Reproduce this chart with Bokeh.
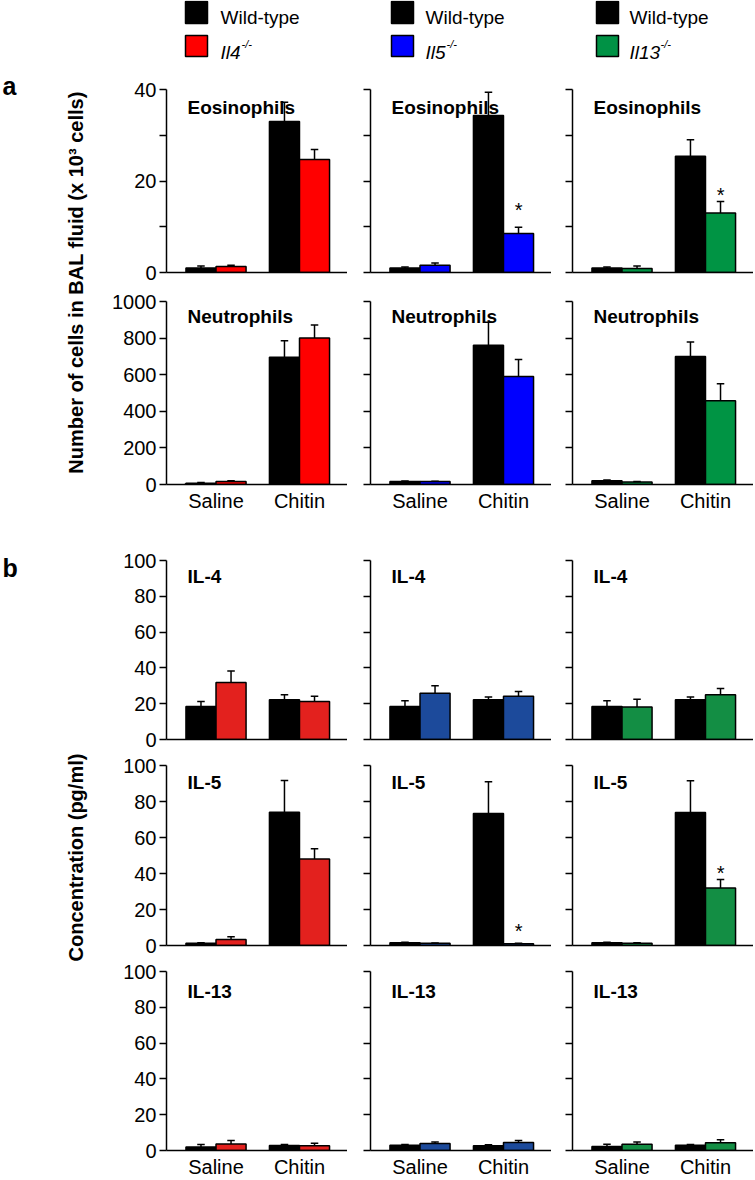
import math
from bokeh.plotting import figure
from bokeh.layouts import row, column
from bokeh.models import Range1d, FixedTicker, Label
from bokeh.core.properties import value
from bokeh.embed import file_html
from bokeh.resources import INLINE

FONT = "Liberation Sans"

# ---------------- data ----------------
groups = ["Saline", "Chitin"]
group_x = [1, 2]
strains = ["Il4", "Il5", "Il13"]
legend_wt = "Wild-type"
ko_colors_a = ["#FF0000", "#0000FF", "#009444"]
ko_colors_b = ["#E3211E", "#1C4A9B", "#138E44"]
legend_colors = ["#FF0000", "#0000FF", "#009245"]

# panel a, Eosinophils (x10^3 cells); per strain: [Saline, Chitin]
eos_wt = [[1.0, 33.0], [1.0, 34.3], [1.0, 25.4]]
eos_wt_err = [[0.4, 4.2], [0.2, 5.1], [0.2, 3.6]]
eos_ko = [[1.3, 24.7], [1.6, 8.5], [0.9, 13.0]]
eos_ko_err = [[0.3, 2.2], [0.5, 1.4], [0.5, 2.5]]
eos_star = [None, 13.6, 17.0]

# panel a, Neutrophils
neu_wt = [[7, 695], [16, 761], [20, 699]]
neu_wt_err = [[4, 90], [3, 126], [4, 80]]
neu_ko = [[16, 801], [16, 590], [13, 457]]
neu_ko_err = [[5, 70], [2, 93], [3, 93]]

# panel b, IL-4 (pg/ml)
il4_wt = [[18.4, 22.2], [18.4, 22.2], [18.4, 22.2]]
il4_wt_err = [[2.8, 2.8], [3.2, 1.6], [3.2, 1.6]]
il4_ko = [[31.8, 21.2], [25.9, 24.2], [18.2, 25.0]]
il4_ko_err = [[6.4, 3.0], [4.1, 2.6], [4.3, 3.5]]

# panel b, IL-5
il5_wt = [[1.2, 74.0], [1.5, 73.3], [1.5, 73.9]]
il5_wt_err = [[0.3, 17.7], [0.3, 17.7], [0.3, 17.6]]
il5_ko = [[3.3, 48.1], [1.2, 1.0], [1.3, 31.9]]
il5_ko_err = [[1.5, 5.6], [0.2, 0.2], [0.2, 4.8]]
il5_star = [None, 8.3, 40.2]

# panel b, IL-13
il13_wt = [[2.0, 2.8], [3.0, 2.6], [2.2, 3.0]]
il13_wt_err = [[1.4, 0.6], [0.4, 0.6], [1.3, 0.4]]
il13_ko = [[3.7, 2.6], [3.9, 4.5], [3.5, 4.3]]
il13_ko_err = [[1.9, 1.5], [0.9, 1.1], [1.2, 1.7]]

eos_ticks = [0, 10, 20, 30, 40]
eos_labeled = [0, 20, 40]
neu_ticks = [0, 200, 400, 600, 800, 1000]
conc_ticks = [0, 20, 40, 60, 80, 100]

# ---------------- layout constants ----------------
FRAME_W = 181
LEFT_BORDER = [66, 23, 21]
X_RANGE = (0.407, 2.575)
BAR_W = 0.36
CAP_HALF = 0.045


def make_panel(col, ymax, ticks, labeled, wt, wt_err, ko, ko_err, color, title,
               title_off, frame_h, top, bottom, show_x, star_y=None):
    p = figure(frame_width=FRAME_W, frame_height=frame_h,
               x_range=Range1d(*X_RANGE), y_range=Range1d(0, ymax),
               output_backend="svg", toolbar_location=None,
               min_border_left=LEFT_BORDER[col], min_border_right=0,
               min_border_top=top, min_border_bottom=bottom,
               outline_line_color=None)
    p.grid.visible = False
    wx = [g - BAR_W / 2 for g in group_x]
    kx = [g + BAR_W / 2 for g in group_x]
    p.vbar(x=wx, top=wt, bottom=0, width=BAR_W, fill_color="black",
           line_color="black", line_width=1.5)
    p.vbar(x=kx, top=ko, bottom=0, width=BAR_W, fill_color=color,
           line_color="black", line_width=1.5)
    xs = wx + kx
    y0 = list(wt) + list(ko)
    e = list(wt_err) + list(ko_err)
    y1 = [a + b for a, b in zip(y0, e)]
    p.segment(x0=xs, y0=y0, x1=xs, y1=y1, line_color="black", line_width=1.5)
    p.segment(x0=[x - CAP_HALF for x in xs], y0=y1,
              x1=[x + CAP_HALF for x in xs], y1=y1,
              line_color="black", line_width=1.5)
    if star_y is not None:
        p.text(x=[kx[1]], y=[star_y], text=["*"], text_font=value(FONT),
               text_font_size="20px", text_align="center",
               text_baseline="middle", text_color="black")
    p.add_layout(Label(x=X_RANGE[0], y=ymax * (1 - title_off / frame_h),
                       x_offset=21, text=title, text_font=FONT,
                       text_font_size="19px", text_font_style="bold",
                       text_baseline="alphabetic", text_color="black"))
    # y axis: labelled ticks are major, the rest minor (styled alike)
    ya = p.yaxis[0]
    if col == 0:
        major = list(labeled)
    else:
        major = []
    minor = [t for t in ticks if t not in major]
    ya.ticker = FixedTicker(ticks=major, minor_ticks=minor)
    ya.axis_line_width = 1.5
    ya.axis_line_color = "black"
    for pre in ("major", "minor"):
        setattr(ya, pre + "_tick_line_width", 1.5)
        setattr(ya, pre + "_tick_line_color", "black")
        setattr(ya, pre + "_tick_out", 7)
        setattr(ya, pre + "_tick_in", 0)
    ya.major_label_text_font = FONT
    ya.major_label_text_color = "black"
    ya.major_label_text_font_size = "20px"
    ya.major_label_standoff = 3
    # x axis
    xa = p.xaxis[0]
    if show_x:
        xa.ticker = FixedTicker(ticks=group_x, minor_ticks=[])
        xa.major_label_overrides = {g: lab for g, lab in zip(group_x, groups)}
    else:
        xa.ticker = FixedTicker(ticks=[], minor_ticks=[])
    xa.axis_line_width = 1.5
    xa.axis_line_color = "black"
    xa.major_tick_out = 0
    xa.major_tick_in = 0
    xa.minor_tick_out = 0
    xa.minor_tick_in = 0
    xa.major_label_text_font = FONT
    xa.major_label_text_color = "black"
    xa.major_label_text_font_size = "20px"
    xa.major_label_standoff = 5
    return p


def blank(width, height):
    p = figure(width=width, height=height, x_range=Range1d(0, width),
               y_range=Range1d(0, height), x_axis_location=None,
               y_axis_location=None, min_border=0, outline_line_color=None,
               output_backend="svg", toolbar_location=None)
    p.grid.visible = False
    return p


# ---------------- legend ----------------
LEG_H = 62
leg = blank(753, LEG_H)
sq_left = [185, 391, 596]
txt_x = [220, 425, 629]
leg.quad(left=sq_left, right=[l + 22 for l in sq_left], top=[61] * 3,
         bottom=[39] * 3, fill_color="black", line_color="black", line_width=1.5)
leg.quad(left=sq_left, right=[l + 22 for l in sq_left], top=[27] * 3,
         bottom=[6] * 3, fill_color=legend_colors, line_color="black", line_width=1.5)
leg.text(x=txt_x, y=[45] * 3, text=[legend_wt] * 3, text_font=value(FONT),
         text_font_size="19px", text_baseline="alphabetic", text_color="black")
leg.text(x=txt_x, y=[10] * 3, text=strains, text_font=value(FONT),
         text_font_size="19px", text_font_style="italic",
         text_baseline="alphabetic", text_color="black")
leg.text(x=[txt_x[0] + 21, txt_x[1] + 21, txt_x[2] + 31], y=[19] * 3,
         text=["-/-"] * 3, text_font=value(FONT), text_font_size="11px",
         text_font_style="italic", text_baseline="alphabetic", text_color="black")

# ---------------- panel a ----------------
a1 = [make_panel(i, 40, eos_ticks, eos_labeled, eos_wt[i], eos_wt_err[i], eos_ko[i],
                 eos_ko_err[i], ko_colors_a[i], "Eosinophils", 18, 183, 27, 14,
                 False, eos_star[i]) for i in range(3)]
a2 = [make_panel(i, 1000, neu_ticks, neu_ticks, neu_wt[i], neu_wt_err[i], neu_ko[i],
                 neu_ko_err[i], ko_colors_a[i], "Neutrophils", 15, 183, 15, 45,
                 True) for i in range(3)]

ylab_a = blank(100, 467)
ylab_a.add_layout(Label(x=75, y=247, text="Number of cells in BAL fluid (x 10³ cells)",
                        angle=math.pi / 2, text_align="center", text_baseline="middle",
                        text_font=FONT, text_font_size="20px", text_font_style="bold",
                        text_color="black"))
ylab_a.add_layout(Label(x=2, y=444, text="a", text_font=FONT, text_font_size="25px",
                        text_font_style="bold", text_baseline="alphabetic",
                        text_color="black"))

# ---------------- panel b ----------------
b1 = [make_panel(i, 100, conc_ticks, conc_ticks, il4_wt[i], il4_wt_err[i], il4_ko[i],
                 il4_ko_err[i], ko_colors_b[i], "IL-4", 16, 179, 31, 13, False)
      for i in range(3)]
b2 = [make_panel(i, 100, conc_ticks, conc_ticks, il5_wt[i], il5_wt_err[i], il5_ko[i],
                 il5_ko_err[i], ko_colors_b[i], "IL-5", 17, 180, 13, 13, False,
                 il5_star[i]) for i in range(3)]
b3 = [make_panel(i, 100, conc_ticks, conc_ticks, il13_wt[i], il13_wt_err[i], il13_ko[i],
                 il13_ko_err[i], ko_colors_b[i], "IL-13", 20, 179, 13, 28, True)
      for i in range(3)]

ylab_b = blank(100, 649)
ylab_b.add_layout(Label(x=75, y=321, text="Concentration (pg/ml)",
                        angle=math.pi / 2, text_align="center", text_baseline="middle",
                        text_font=FONT, text_font_size="20px", text_font_style="bold",
                        text_color="black"))
ylab_b.add_layout(Label(x=2, y=611, text="b", text_font=FONT, text_font_size="25px",
                        text_font_style="bold", text_baseline="alphabetic",
                        text_color="black"))

layout = column(
    leg,
    row(ylab_a, column(row(*a1), row(*a2))),
    row(ylab_b, column(row(*b1), row(*b2), row(*b3))),
)

open("out.html", "w").write(file_html(layout, INLINE, "chart"))
